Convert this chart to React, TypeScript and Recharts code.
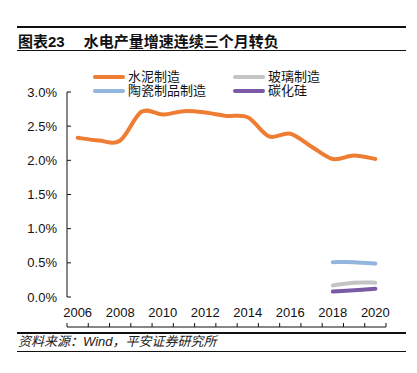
import React from 'react';
import { ComposedChart, Line, XAxis, YAxis, Legend } from 'recharts';

const years = [2006, 2007, 2008, 2009, 2010, 2011, 2012, 2013, 2014, 2015, 2016, 2017, 2018, 2019, 2020];
const cement = [2.33, 2.29, 2.29, 2.71, 2.67, 2.72, 2.70, 2.65, 2.63, 2.35, 2.39, 2.20, 2.02, 2.07, 2.02];
const ceramics = [null, null, null, null, null, null, null, null, null, null, null, null, 0.51, 0.51, 0.49];
const glass = [null, null, null, null, null, null, null, null, null, null, null, null, 0.17, 0.21, 0.21];
const sic = [null, null, null, null, null, null, null, null, null, null, null, null, 0.08, 0.10, 0.12];
const yTicks = [0, 0.5, 1, 1.5, 2, 2.5, 3];
const labelYears = [2006, 2008, 2010, 2012, 2014, 2016, 2018, 2020];
const boundaries = years.map((y) => y - 0.5).concat([years[years.length - 1] + 0.5]);

const seriesNames = { cement: '水泥制造', glass: '玻璃制造', ceramics: '陶瓷制品制造', sic: '碳化硅' };
const colors = { cement: '#EE7D33', glass: '#C4C4C4', ceramics: '#93B5DE', sic: '#7A5AA5' };
const legendOrder = ['cement', 'glass', 'ceramics', 'sic'];

const title = '图表23';
const subtitle = '水电产量增速连续三个月转负';
const source = '资料来源：Wind，平安证券研究所';

const data = years.map((year, i) => ({
  year,
  cement: cement[i],
  ceramics: ceramics[i],
  glass: glass[i],
  sic: sic[i],
}));

const FONT = '"Liberation Sans", Arial, "Noto Sans CJK SC", sans-serif';

// Catmull-Rom style smoothing (similar to spreadsheet smoothed lines)
const smoothCurve: any = (context: any) => {
  let pts: number[][] = [];
  return {
    areaStart() {},
    areaEnd() {},
    lineStart() {
      pts = [];
    },
    lineEnd() {
      const n = pts.length;
      if (n === 0) return;
      context.moveTo(pts[0][0], pts[0][1]);
      if (n === 1) {
        context.lineTo(pts[0][0], pts[0][1]);
        return;
      }
      for (let i = 0; i < n - 1; i++) {
        const p0 = pts[Math.max(i - 1, 0)];
        const p1 = pts[i];
        const p2 = pts[i + 1];
        const p3 = pts[Math.min(i + 2, n - 1)];
        const c1x = p1[0] + (p2[0] - p0[0]) / 6;
        const c1y = p1[1] + (p2[1] - p0[1]) / 6;
        const c2x = p2[0] - (p3[0] - p1[0]) / 6;
        const c2y = p2[1] - (p3[1] - p1[1]) / 6;
        context.bezierCurveTo(c1x, c1y, c2x, c2y, p2[0], p2[1]);
      }
    },
    point(x: number, y: number) {
      pts.push([+x, +y]);
    },
  };
};

const renderLegend = (props: any) => {
  const payload = props.payload || [];
  const byKey: Record<string, any> = {};
  payload.forEach((p: any) => {
    byKey[p.dataKey] = p;
  });
  return (
    <div
      style={{
        display: 'grid',
        gridTemplateColumns: '140px 140px',
        gridAutoRows: '14px',
        fontFamily: FONT,
        fontSize: 13,
        color: '#111',
      }}
    >
      {legendOrder.map((k) => {
        const p = byKey[k];
        if (!p) return null;
        return (
          <div key={k} style={{ display: 'flex', alignItems: 'center', height: 14, whiteSpace: 'nowrap' }}>
            <span
              style={{
                display: 'inline-block',
                width: 32,
                height: 4,
                borderRadius: 2,
                background: p.color,
                marginRight: 3,
              }}
            />
            <span style={{ lineHeight: '14px' }}>{p.value}</span>
          </div>
        );
      })}
    </div>
  );
};

export default function App() {
  return (
    <div
      style={{
        position: 'absolute',
        left: 0,
        top: 0,
        width: 417,
        height: 373,
        background: '#fff',
        fontFamily: FONT,
      }}
    >
      <div style={{ position: 'absolute', left: 17, top: 26, width: 389, height: 1.5, background: '#111' }} />
      <div
        style={{
          position: 'absolute',
          left: 18,
          top: 32,
          fontSize: 15,
          fontWeight: 'bold',
          lineHeight: '20px',
          color: '#111',
          whiteSpace: 'nowrap',
          fontFamily: FONT,
        }}
      >
        <span>{title}</span>
        <span style={{ marginLeft: 19 }}>{subtitle}</span>
      </div>
      <div style={{ position: 'absolute', left: 17, top: 49.5, width: 389, height: 1.5, background: '#111' }} />

      <div style={{ position: 'absolute', left: 0, top: 0 }}>
        <ComposedChart
          width={417}
          height={373}
          data={data}
          margin={{ top: 92, right: 31, bottom: 45, left: 0 }}
        >
          <XAxis
            xAxisId="marks"
            dataKey="year"
            type="number"
            domain={[boundaries[0], boundaries[boundaries.length - 1]]}
            ticks={boundaries}
            interval={0}
            tick={{ fontSize: 1, fill: 'none' }}
            tickFormatter={() => ''}
            tickSize={-4}
            height={1}
            axisLine={{ stroke: '#111' }}
            tickLine={{ stroke: '#111' }}
            allowDataOverflow
          />
          <XAxis
            xAxisId="labels"
            dataKey="year"
            type="number"
            domain={[boundaries[0], boundaries[boundaries.length - 1]]}
            ticks={labelYears}
            interval={0}
            axisLine={false}
            tickLine={false}
            tickSize={0}
            tickMargin={11}
            height={30}
            tick={{ fontSize: 13, fill: '#111', fontFamily: FONT }}
            allowDataOverflow
          />
          <YAxis
            type="number"
            domain={[0, 3]}
            ticks={yTicks}
            interval={0}
            width={67}
            tickSize={-4}
            tickMargin={14}
            axisLine={{ stroke: '#111' }}
            tickLine={{ stroke: '#111' }}
            tick={{ fontSize: 13, fill: '#111', fontFamily: FONT }}
            tickFormatter={(v: number) => `${v.toFixed(1)}%`}
          />
          <Legend
            layout="horizontal"
            verticalAlign="middle"
            align="center"
            content={renderLegend}
            wrapperStyle={{ left: 93, top: 70, width: 300, height: 28 }}
          />
          <Line
            xAxisId="marks"
            dataKey="ceramics"
            name={seriesNames.ceramics}
            stroke={colors.ceramics}
            strokeWidth={4}
            strokeLinecap="round"
            type={smoothCurve}
            dot={false}
            activeDot={false}
            isAnimationActive={false}
          />
          <Line
            xAxisId="marks"
            dataKey="glass"
            name={seriesNames.glass}
            stroke={colors.glass}
            strokeWidth={4}
            strokeLinecap="round"
            type={smoothCurve}
            dot={false}
            activeDot={false}
            isAnimationActive={false}
          />
          <Line
            xAxisId="marks"
            dataKey="sic"
            name={seriesNames.sic}
            stroke={colors.sic}
            strokeWidth={4}
            strokeLinecap="round"
            type={smoothCurve}
            dot={false}
            activeDot={false}
            isAnimationActive={false}
          />
          <Line
            xAxisId="marks"
            dataKey="cement"
            name={seriesNames.cement}
            stroke={colors.cement}
            strokeWidth={4}
            strokeLinecap="round"
            type={smoothCurve}
            dot={false}
            activeDot={false}
            isAnimationActive={false}
          />
        </ComposedChart>
      </div>

      <div style={{ position: 'absolute', left: 17, top: 332, width: 389, height: 1.5, background: '#111' }} />
      <div
        style={{
          position: 'absolute',
          left: 18,
          top: 334,
          fontSize: 13,
          fontStyle: 'italic',
          lineHeight: '16px',
          color: '#222',
          whiteSpace: 'nowrap',
          fontFamily: FONT,
        }}
      >
        {source}
      </div>
      <div style={{ position: 'absolute', left: 17, top: 350.5, width: 389, height: 1.5, background: '#111' }} />
    </div>
  );
}
